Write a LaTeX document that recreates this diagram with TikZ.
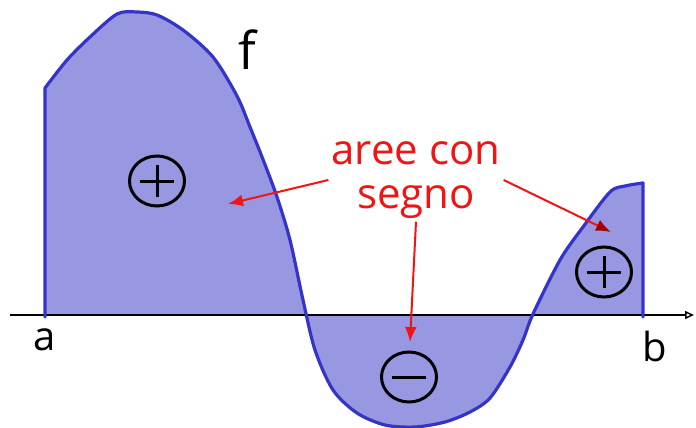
\documentclass[tikz,border=0pt]{standalone}
\usepackage{fontspec}
\setmainfont{Open Sans}
\usetikzlibrary{arrows.meta,shapes.geometric}
\definecolor{areafill}{HTML}{9898E2}
\definecolor{curveblue}{HTML}{3434C8}
\definecolor{markred}{HTML}{F01414}
\definecolor{tipred}{HTML}{A80000}
\tikzset{
  region/.style={
    fill=areafill
  },
  curve/.style={
    draw=curveblue,
    line width=3.2pt,
    line join=round,
    line cap=round
  },
  fgraph/.style={
    insert path={-- plot[smooth] coordinates {(45,88) (67,60) (90,37) (117,14) (137,12) (157,15) (183,30) (213,57) (237,96) (250,127) (264,162) (277,197) (290,240) (303,300) (315,350) (333,390) (357,413) (385,425) (415,427) (445,422) (470,412) (490,398) (510,367) (523,340) (533,314) (560,260) (583,227) (610,192) (625,186) (643,183)}}
  },
  axis/.style={
    -{Triangle[open,length=9pt,width=8pt,line width=1.5pt]},
    draw=black,
    line width=2pt
  },
  note/.style={
    -{Latex[length=15pt,width=12pt]},
    draw=markred,
    line width=2pt
  },
  darknote/.style={
    note,
    -{Latex[length=15pt,width=12pt,color=tipred]}
  },
  signbox/.style={
    ellipse,
    draw=black,
    line width=3pt,
    minimum width=55pt,
    minimum height=50pt,
    inner sep=0pt
  },
  minussign/.style={
    signbox,
    path picture={
      \draw[line width=3pt] ([xshift=-17pt]path picture bounding box.center) -- ([xshift=17pt]path picture bounding box.center);
    }
  },
  plussign/.style={
    signbox,
    path picture={
      \draw[line width=3pt] ([xshift=-17pt]path picture bounding box.center) -- ([xshift=17pt]path picture bounding box.center);
      \draw[line width=3pt] ([yshift=-16pt]path picture bounding box.center) -- ([yshift=16pt]path picture bounding box.center);
    }
  },
  handtext/.style={
    text=black,
    font=\fontsize{40}{44}\selectfont
  },
  redtext/.style={
    text=markred,
    align=center,
    inner sep=3pt,
    font=\fontsize{42}{44}\selectfont
  }
}

\begin{document}
\begin{tikzpicture}[x=1pt, y=-1pt]
  \useasboundingbox (0,0) rectangle (696,428);

  % area between f and the axis
  \fill[region] (45,315) [fgraph] -- (643,315) -- cycle;

  \coordinate (xstart) at (10,315);
  \coordinate (xend) at (694,315);
  \draw[axis] (xstart) -- (xend);

  \draw[curve] (45,317) [fgraph] -- (643,317);

  \node[handtext, font=\fontsize{52}{56}\selectfont] (fname) at (247,50) {f};
  \node[handtext] (aname) at (45,340) {a};
  \node[handtext] (bname) at (655,346) {b};

  \node[plussign] (posleft) at (157,181) {};
  \node[minussign] (negmid) at (409,377) {};
  \node[plussign] (posright) at (604,272) {};

  \node[redtext] (label) at (416,180) {aree con\\segno};

  \coordinate (tipleft) at (228,204);
  \coordinate (tipmid) at (410,342);
  \coordinate (tipright) at (611,232);
  \draw[note] (label.west) -- (tipleft);
  \draw[note] (label.south) -- (tipmid);
  \draw[darknote] (label.east) -- (tipright);
\end{tikzpicture}
\end{document}
